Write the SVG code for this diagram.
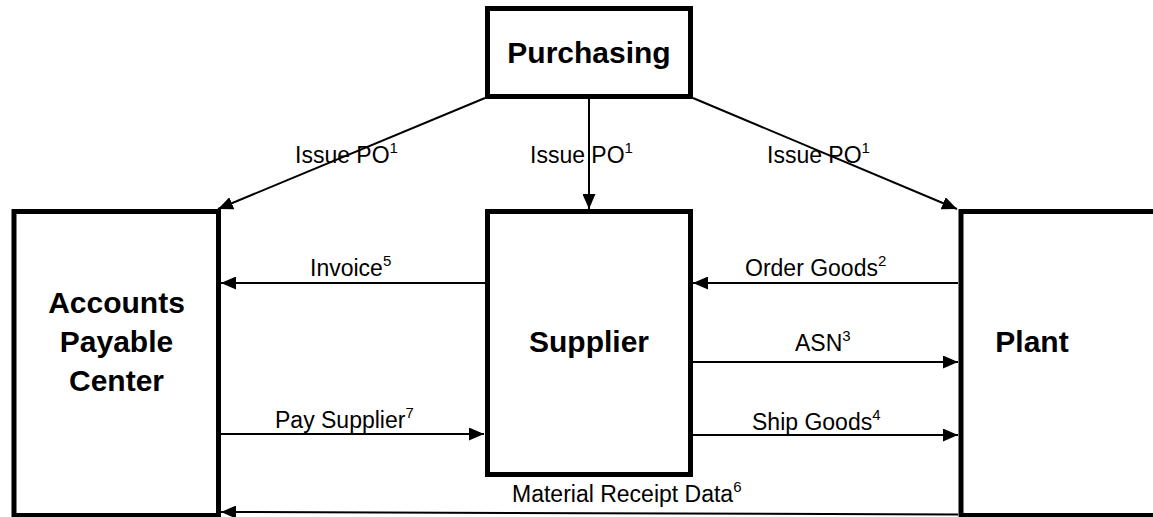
<svg xmlns="http://www.w3.org/2000/svg" width="1153" height="517" viewBox="0 0 1153 517">
<style>
.box{fill:#fff;stroke:#000;stroke-width:5}
.bt{font-family:"Liberation Sans",Arial,sans-serif;font-weight:bold;font-size:30px;fill:#000;text-anchor:middle}
.lb{font-family:"Liberation Sans",Arial,sans-serif;font-size:23px;fill:#000}
.sup{font-size:15px}
.ln{stroke:#000;stroke-width:2;fill:none;marker-end:url(#ah)}
</style>
<defs>
<marker id="ah" markerUnits="userSpaceOnUse" markerWidth="16" markerHeight="13" refX="15" refY="6.5" orient="auto">
<path d="M0,0 L15,6.5 L0,13 z" fill="#000"/>
</marker>
</defs>
<rect width="1153" height="517" fill="#fff"/>
<g id="purchasing">
<rect class="box" x="487.5" y="8.5" width="203" height="88"/>
<text class="bt" x="589" y="63">Purchasing</text>
</g>
<g id="accounts">
<rect class="box" x="14" y="211.5" width="204.5" height="304"/>
<text class="bt" x="116.5" y="313">Accounts</text>
<text class="bt" x="116.5" y="352">Payable</text>
<text class="bt" x="116.5" y="391">Center</text>
</g>
<g id="supplier">
<rect class="box" x="487.5" y="211.5" width="203" height="263"/>
<text class="bt" x="589" y="352">Supplier</text>
</g>
<g id="plant">
<rect class="box" x="961" y="211.5" width="200" height="304"/>
<text class="bt" x="1032" y="352">Plant</text>
</g>
<g id="connectors">
<line class="ln" x1="485" y1="98" x2="218" y2="209"/>
<line class="ln" x1="589" y1="99" x2="589" y2="209"/>
<line class="ln" x1="693" y1="98" x2="957" y2="209"/>
<line class="ln" x1="958" y1="283" x2="693" y2="283"/>
<line class="ln" x1="485" y1="283" x2="221" y2="283"/>
<line class="ln" x1="693" y1="362" x2="958" y2="362"/>
<line class="ln" x1="221" y1="434" x2="484" y2="434"/>
<line class="ln" x1="693" y1="435" x2="958" y2="435"/>
<line class="ln" x1="958" y1="514.5" x2="221" y2="512"/>
</g>
<g id="labels">
<text class="lb" x="295" y="163">Issue PO<tspan class="sup" dy="-10">1</tspan></text>
<text class="lb" x="530" y="163">Issue PO<tspan class="sup" dy="-10">1</tspan></text>
<text class="lb" x="767" y="163">Issue PO<tspan class="sup" dy="-10">1</tspan></text>
<text class="lb" x="310" y="276">Invoice<tspan class="sup" dy="-10">5</tspan></text>
<text class="lb" x="745" y="276">Order Goods<tspan class="sup" dy="-10">2</tspan></text>
<text class="lb" x="795" y="351">ASN<tspan class="sup" dy="-10">3</tspan></text>
<text class="lb" x="275" y="428">Pay Supplier<tspan class="sup" dy="-10">7</tspan></text>
<text class="lb" x="752" y="430">Ship Goods<tspan class="sup" dy="-10">4</tspan></text>
<text class="lb" x="512" y="502">Material Receipt Data<tspan class="sup" dy="-10">6</tspan></text>
</g>
</svg>
